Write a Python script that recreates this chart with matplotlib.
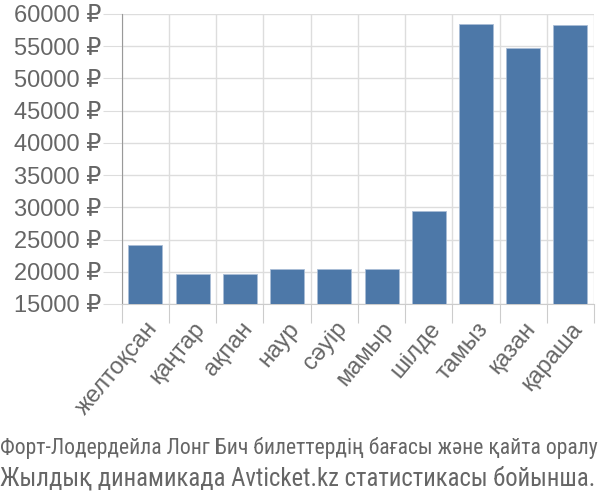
import matplotlib
matplotlib.use("Agg")
import matplotlib.pyplot as plt
import numpy as np

months = ["желтоқсан", "қаңтар", "ақпан", "наур", "сәуір", "мамыр",
          "шілде", "тамыз", "қазан", "қараша"]
prices = [24100, 19600, 19600, 20500, 20500, 20500, 29500, 58450, 54700, 58350]
yticks = list(range(15000, 60001, 5000))
caption_lines = ["Форт-Лодердейла Лонг Бич билеттердің бағасы және қайта оралу",
                 "Жылдық динамикада Avticket.kz статистикасы бойынша."]

plt.rcParams["font.family"] = ["Liberation Sans", "DejaVu Sans"]

fig = plt.figure(figsize=(6, 5), dpi=100)
ax = fig.add_axes([0.203, 0.392, 0.787, 0.580])

x = np.arange(len(months))
ax.bar(x, prices, width=0.72, color="#4d78a8", edgecolor="#a9bdd6",
       linewidth=0.6, zorder=3)

ax.set_xlim(-0.5, len(months) - 0.5)
ax.set_ylim(15000, 60000)
ax.set_yticks(yticks)
ax.set_yticklabels([f"{v} ₽" for v in yticks], fontsize=17, color="#666666")

ax.set_xticks(np.arange(len(months) + 1) - 0.5, minor=False)
ax.set_xticklabels([])
ax.set_xticks(x, minor=True)
ax.set_xticklabels(months, minor=True, rotation=50, ha="right",
                   rotation_mode="anchor", fontsize=17, color="#666666")
ax.tick_params(axis="x", which="minor", length=0, pad=10)
ax.tick_params(axis="x", which="major", length=14, color="#cccccc")
ax.tick_params(axis="y", length=14, color="#dddddd", pad=1)

ax.grid(True, which="major", color="#dddddd", linewidth=1, zorder=0)
for s in ["top", "right"]:
    ax.spines[s].set_visible(False)
ax.spines["left"].set_color("#999999")
ax.spines["bottom"].set_color("#cccccc")

# caption lines, each sized to span the figure width
renderer = fig.canvas.get_renderer()
for line, yb in zip(caption_lines, [0.092, 0.030]):
    t = fig.text(0.0, yb, line, fontsize=17, color="#666666",
                 family=["Roboto Condensed", "DejaVu Sans"],
                 ha="left", va="baseline")
    w = t.get_window_extent(renderer).width
    t.set_fontsize(17 * 597 / w)

fig.savefig("out.png", dpi=100)
